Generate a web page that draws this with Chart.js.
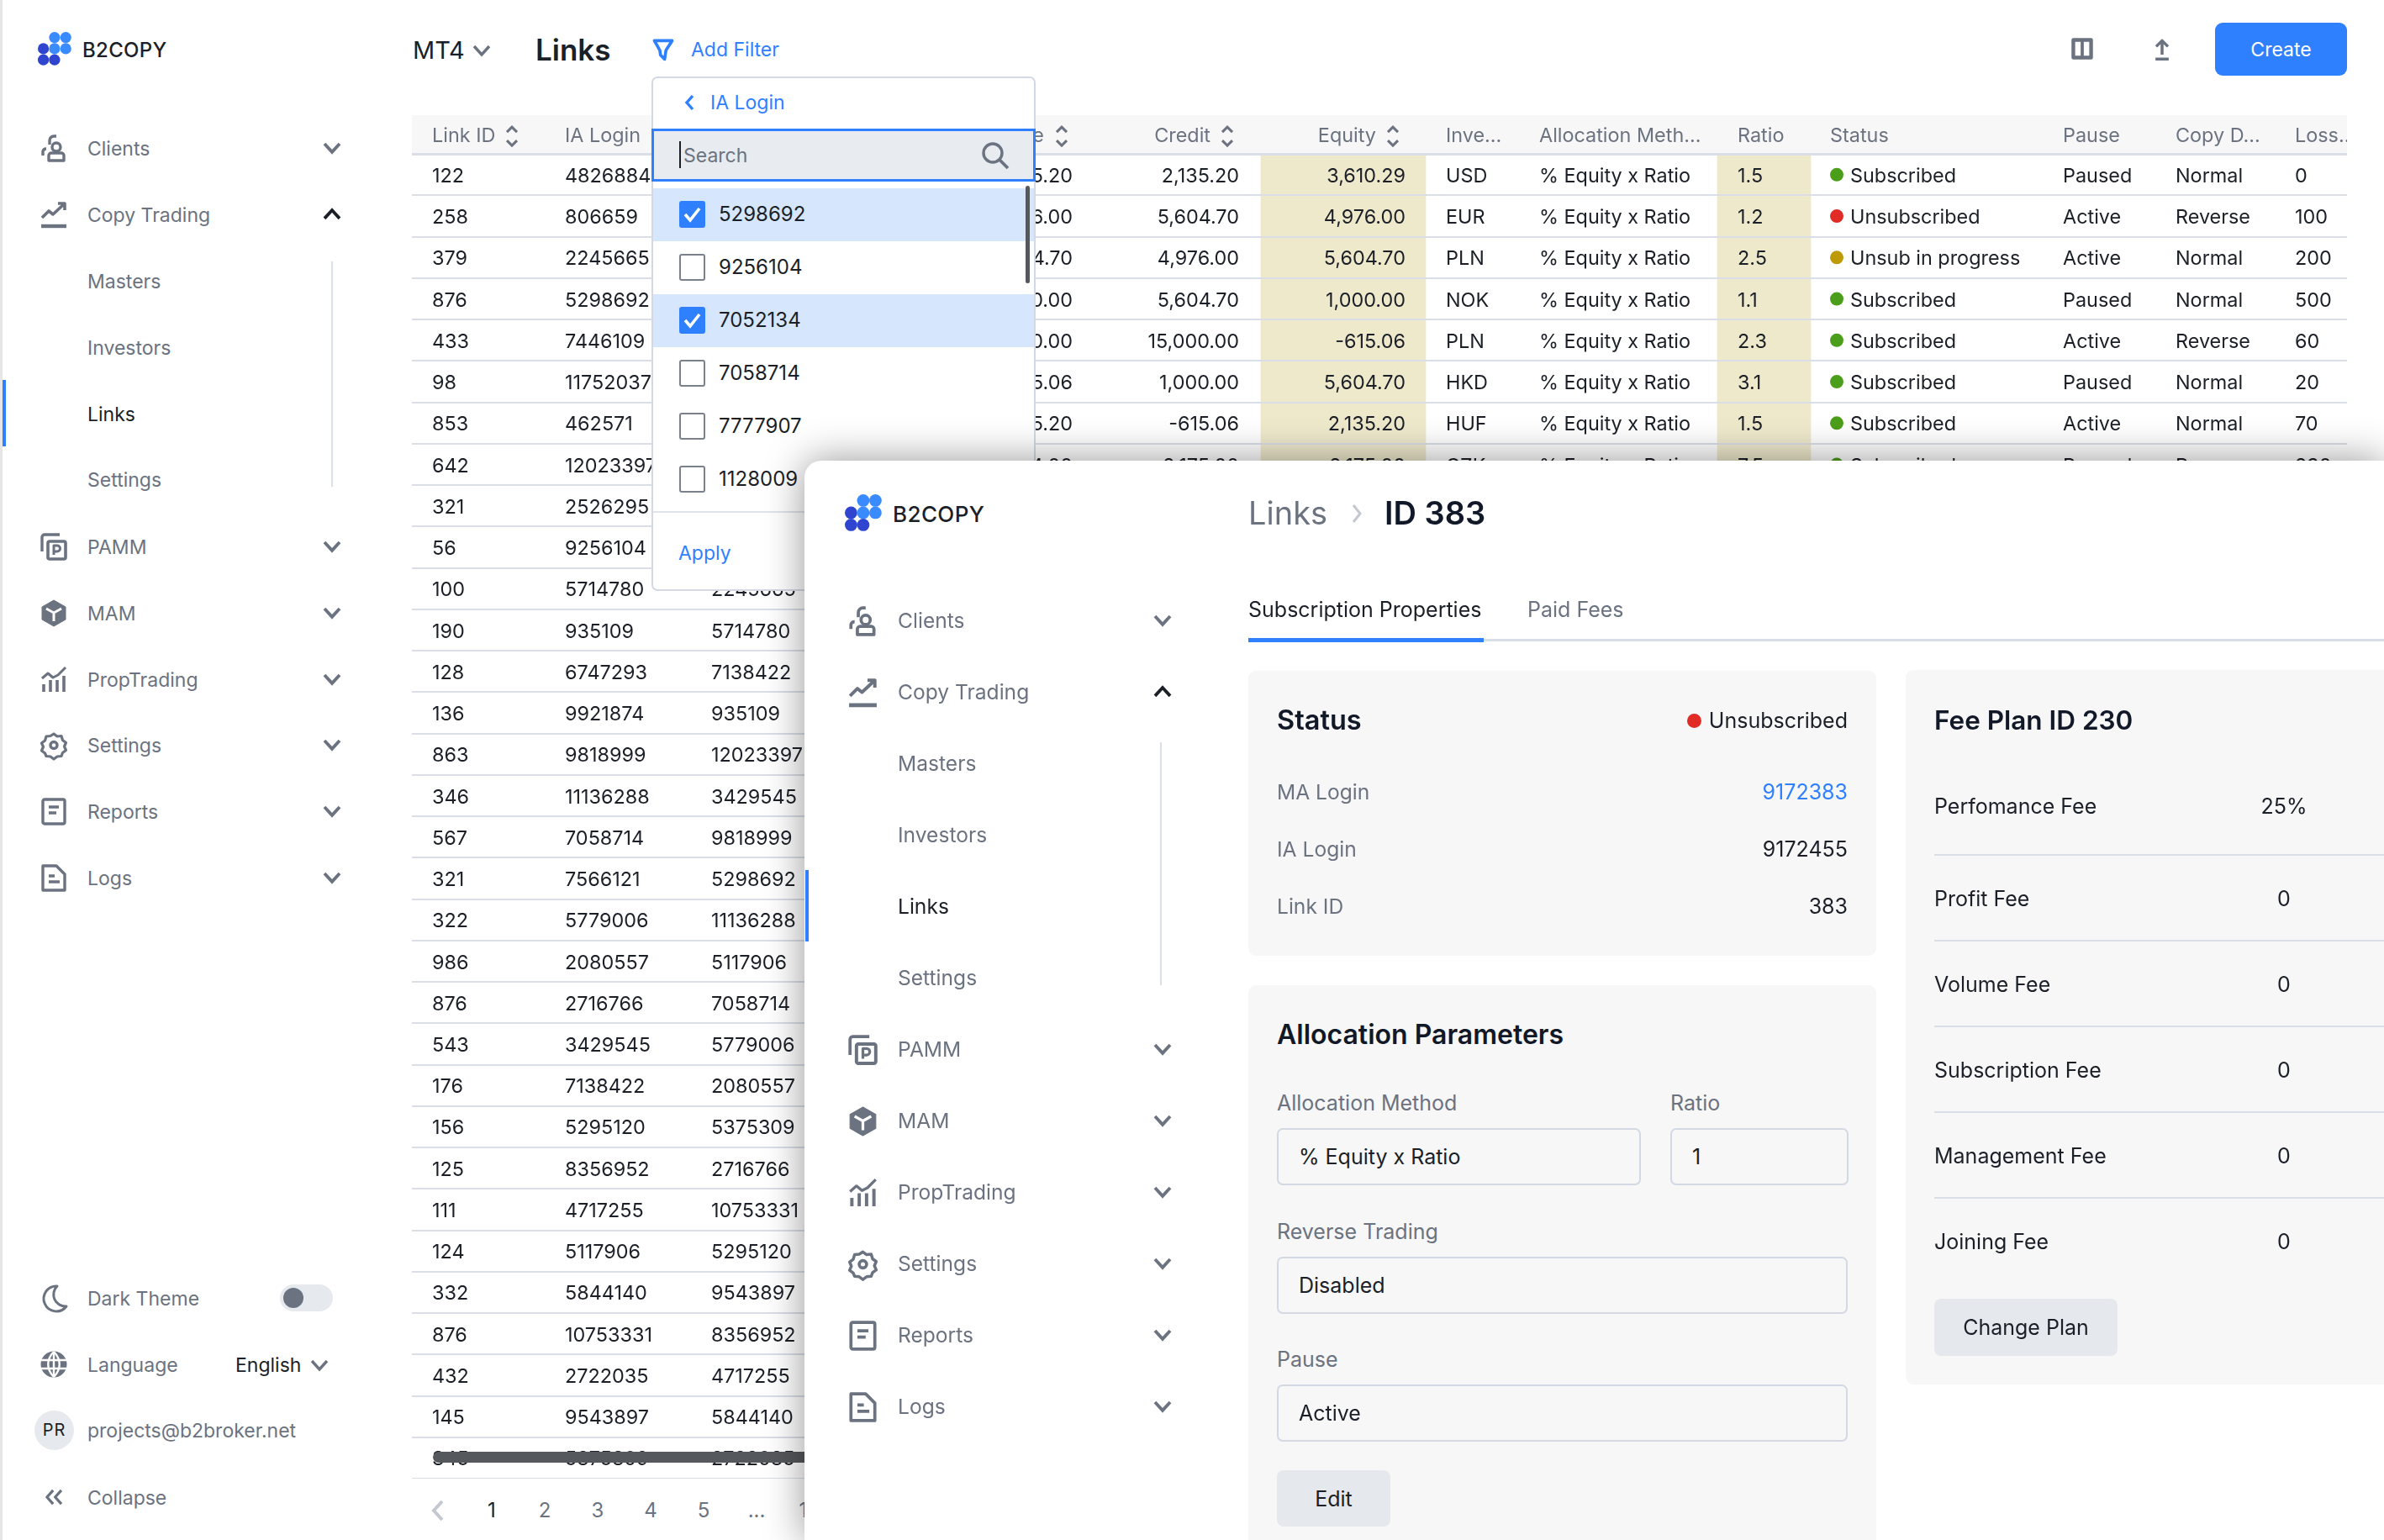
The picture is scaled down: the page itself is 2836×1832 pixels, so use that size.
<!DOCTYPE html>
<html>
<head>
<meta charset="utf-8">
<title>Links</title>
<script src="https://cdn.jsdelivr.net/npm/chart.js@4/dist/chart.umd.js"></script>
<style>
  html, body { margin: 0; padding: 0; background: #fff; }
  body { width: 2836px; height: 1832px; overflow: hidden; position: relative; font-family: Inter, sans-serif; }
  .layer { position: absolute; left: 0; top: 0; width: 2836px; height: 1832px; }
  .t { position: absolute; white-space: nowrap; line-height: 1; }
  .box { position: absolute; box-sizing: border-box; }
  svg { position: absolute; overflow: visible; }
  #tableChart { position: absolute; left: 490px; top: 134px; }
</style>
</head>
<body>
<div class="layer" id="main"><canvas id="tableChart" width="2302" height="1625"></canvas></div>
<div class="layer" id="filter"></div>
<div class="layer" id="panel"></div>
<script>
// Table columns
const linkIds = ['122', '258', '379', '876', '433', '98', '853', '642', '321', '56', '100', '190', '128', '136', '863', '346', '567', '321', '322', '986', '876', '543', '176', '156', '125', '111', '124', '332', '876', '432', '145', '345'];
const iaLogins = ['4826884', '806659', '2245665', '5298692', '7446109', '11752037', '462571', '12023397', '2526295', '9256104', '5714780', '935109', '6747293', '9921874', '9818999', '11136288', '7058714', '7566121', '5779006', '2080557', '2716766', '3429545', '7138422', '5295120', '8356952', '4717255', '5117906', '5844140', '10753331', '2722035', '9543897', '5375309'];
const maLogins = [null, null, null, null, null, null, null, null, null, null, '2245665', '5714780', '7138422', '935109', '12023397', '3429545', '9818999', '5298692', '11136288', '5117906', '7058714', '5779006', '2080557', '5375309', '2716766', '10753331', '5295120', '9543897', '8356952', '4717255', '5844140', '2722035'];
const balances = ['2,135.20', '4,976.00', '5,604.70', '1,000.00', '1,000.00', '-615.06', '2,135.20', '2,104.00'];
const credits = ['2,135.20', '5,604.70', '4,976.00', '5,604.70', '15,000.00', '1,000.00', '-615.06', '2,175.00'];
const equities = ['3,610.29', '4,976.00', '5,604.70', '1,000.00', '-615.06', '5,604.70', '2,135.20', '2,175.00'];
const currencies = ['USD', 'EUR', 'PLN', 'NOK', 'PLN', 'HKD', 'HUF', 'CZK'];
const allocationMethods = ['% Equity x Ratio', '% Equity x Ratio', '% Equity x Ratio', '% Equity x Ratio', '% Equity x Ratio', '% Equity x Ratio', '% Equity x Ratio', '% Equity x Ratio'];
const ratios = ['1.5', '1.2', '2.5', '1.1', '2.3', '3.1', '1.5', '7.5'];
const statuses = ['Subscribed', 'Unsubscribed', 'Unsub in progress', 'Subscribed', 'Subscribed', 'Subscribed', 'Subscribed', 'Subscribed'];
const pauses = ['Paused', 'Active', 'Active', 'Paused', 'Active', 'Paused', 'Active', 'Paused'];
const copyDirections = ['Normal', 'Reverse', 'Normal', 'Normal', 'Reverse', 'Normal', 'Normal', 'Reverse'];
const lossLimits = ['0', '100', '200', '500', '60', '20', '70', '230'];

// Other lists
const filterLogins = ['5298692', '9256104', '7052134', '7058714', '7777907', '1128009'];
const filterChecked = [true, false, true, false, false, false];
const feeNames = ['Perfomance Fee', 'Profit Fee', 'Volume Fee', 'Subscription Fee', 'Management Fee', 'Joining Fee'];
const feeValues = ['25%', '0', '0', '0', '0', '0'];
const pageLabels = ['1', '2', '3', '4', '5', '...', '10'];

// Column layout, in pixels from the left of the table
const tableWidth = 2302;
const columns = [
  { header: 'Link ID', values: linkIds, x: 24, sortX: 119 },
  { header: 'IA Login', values: iaLogins, x: 182 },
  { header: 'MA Login', values: maLogins, x: 356 },
  { header: 'Balance', values: balances, x: 786, headerX: 752, align: 'right', sortX: 773 },
  { header: 'Credit', values: credits, x: 984, headerX: 950, align: 'right', sortX: 970 },
  { header: 'Equity', values: equities, x: 1182, headerX: 1147, align: 'right', sortX: 1167 },
  { header: 'Inve...', values: currencies, x: 1230 },
  { header: 'Allocation Meth...', values: allocationMethods, x: 1341 },
  { header: 'Ratio', values: ratios, x: 1577 },
  { header: 'Status', values: statuses, x: 1711, headerX: 1687 },
  { header: 'Pause', values: pauses, x: 1964 },
  { header: 'Copy D...', values: copyDirections, x: 2098 },
  { header: 'Loss...', values: lossLimits, x: 2240 }
];
const rowKeys = ['header'].concat(linkIds.map((id, i) => 'row' + i));
const statusColors = { 'Subscribed': '#4b9e1a', 'Unsubscribed': '#e02b27', 'Unsub in progress': '#bd9a06' };
const statusDotX = 1695;

const tableTextPlugin = {
  id: 'tableText',
  afterDatasetsDraw(chart) {
    const { ctx, scales } = chart;
    ctx.save();
    ctx.textBaseline = 'middle';
    columns.forEach(col => {
      ctx.textAlign = col.align || 'left';
      ctx.font = '400 23.4px Inter';
      ctx.fillStyle = '#6b7280';
      const hx = scales.x.getPixelForValue(col.headerX !== undefined ? col.headerX : col.x);
      const hy = scales.y.getPixelForValue('header') + 3.5;
      ctx.fillText(col.header, hx, hy);
      if (col.sortX) {
        const sx = scales.x.getPixelForValue(col.sortX);
        ctx.strokeStyle = '#6b7280';
        ctx.lineWidth = 3;
        ctx.beginPath();
        ctx.moveTo(sx - 6, hy - 5); ctx.lineTo(sx, hy - 11); ctx.lineTo(sx + 6, hy - 5);
        ctx.moveTo(sx - 6, hy + 5); ctx.lineTo(sx, hy + 11); ctx.lineTo(sx + 6, hy + 5);
        ctx.stroke();
      }
      ctx.fillStyle = '#1b1f27';
      col.values.forEach((v, i) => {
        if (v === null) return;
        ctx.fillText(v, scales.x.getPixelForValue(col.x), scales.y.getPixelForValue('row' + i) + 2);
      });
    });
    ctx.restore();
  }
};

function highlightBars(values, from, to) {
  return values.map((v, i) => ({ x: [from, to], y: 'row' + i }));
}

new Chart(document.getElementById('tableChart'), {
  data: {
    labels: rowKeys,
    datasets: [
      {
        type: 'bar',
        indexAxis: 'y',
        data: highlightBars(equities, 1010, 1206),
        backgroundColor: '#efe9cc',
        barPercentage: 1,
        categoryPercentage: 1,
        grouped: false
      },
      {
        type: 'bar',
        indexAxis: 'y',
        data: highlightBars(ratios, 1553, 1664),
        backgroundColor: '#efe9cc',
        barPercentage: 1,
        categoryPercentage: 1,
        grouped: false
      },
      {
        type: 'scatter',
        data: statuses.map((s, i) => ({ x: statusDotX, y: 'row' + i })),
        pointRadius: 8,
        pointBorderWidth: 0,
        pointBackgroundColor: statuses.map(s => statusColors[s])
      }
    ]
  },
  options: {
    responsive: false,
    animation: false,
    devicePixelRatio: 1,
    layout: { padding: 0, autoPadding: false },
    plugins: { legend: { display: false }, tooltip: { enabled: false } },
    scales: {
      x: { type: 'linear', min: 0, max: tableWidth, display: false },
      y: {
        type: 'category',
        offset: true,
        border: { display: false },
        ticks: { display: false, autoSkip: false },
        grid: {
          offset: true,
          z: 1,
          drawTicks: false,
          color: c => c.index === 0 ? 'rgba(0,0,0,0)' : '#d9dee7',
          lineWidth: c => c.index === 1 ? 3 : 2
        }
      }
    }
  },
  plugins: [tableTextPlugin]
});

// Page furniture below
const GRAY = '#6b7280', DARK = '#1b1f27', BLUE = '#2f80ff', LINE = '#d9dee7', CARD = '#f7f7f8';
const SVG_NS = 'http://www.w3.org/2000/svg';

function txt(parent, str, x, y, size, color, opts) {
  opts = opts || {};
  const d = document.createElement('div');
  d.className = 't';
  d.textContent = str;
  d.style.left = x + 'px';
  d.style.top = y + 'px';
  d.style.fontSize = size + 'px';
  d.style.color = color;
  d.style.fontWeight = opts.weight || 400;
  if (opts.spacing) d.style.letterSpacing = opts.spacing + 'px';
  const tx = opts.align === 'right' ? '-100%' : opts.align === 'center' ? '-50%' : '0';
  d.style.transform = 'translate(' + tx + ',-50%)';
  parent.appendChild(d);
  return d;
}

function box(parent, x, y, w, h, css) {
  const d = document.createElement('div');
  d.className = 'box';
  d.style.cssText = 'left:' + x + 'px;top:' + y + 'px;width:' + w + 'px;height:' + h + 'px;' + (css || '');
  parent.appendChild(d);
  return d;
}

function shape(parent, x, y, w, h, inner) {
  const s = document.createElementNS(SVG_NS, 'svg');
  s.setAttribute('width', w);
  s.setAttribute('height', h);
  s.style.left = x + 'px';
  s.style.top = y + 'px';
  s.innerHTML = inner;
  parent.appendChild(s);
  return s;
}

const ICONS = {
  clients: '<circle cx="19" cy="15" r="5" fill="none" stroke-width="3.4"/><path d="M10 31v-6a3 3 0 0 1 3-3h12a3 3 0 0 1 3 3v6z" fill="none" stroke-width="3.4"/><path d="M11 12V7a5 5 0 0 1 5-5h3M3 25v-5a4 4 0 0 1 4-3" fill="none" stroke-width="3.4"/>',
  chart: '<path d="M2 20l8-8 5 4L29 3M21 3h8v8" fill="none" stroke-width="3.6"/><path d="M1 30h30" fill="none" stroke-width="4.4"/>',
  pamm: '<path d="M2 22V5a3 3 0 0 1 3-3h18" fill="none" stroke-width="3.4"/><rect x="9" y="10" width="21" height="21" rx="2" fill="none" stroke-width="3.6"/><path d="M16 26V15h4a3 3 0 0 1 0 7h-4" fill="none" stroke-width="3"/>',
  mam: '<path d="M16 1l14 8v15l-14 8-14-8V9z" stroke-width="1"/><path d="M7 11l9 5 9-5M16 16v10" fill="none" stroke="#fff" stroke-width="3"/>',
  prop: '<path d="M2 15l7-6 6 5 6-3 9-9" fill="none" stroke-width="3"/><path d="M4 31v-9M12 31V17M20 31V17M28 31V12" fill="none" stroke-width="3.6"/>',
  gear: '<path d="M16 3l4 3 5-.5 1.5 5 4 3-2 4.5 2 4.5-4 3-1.5 4-5 .5-4 3-4-3-5-.5L5.500 26l-4-3 2-4.500-2-4.500 4-3L7 6l5-.5z" fill="none" stroke-width="3.2"/><circle cx="16" cy="16.500" r="4" fill="none" stroke-width="3.4"/>',
  reports: '<rect x="3" y="2" width="26" height="29" rx="2" fill="none" stroke-width="3.4"/><path d="M10 11h12M10 18h9" fill="none" stroke-width="3.4"/>',
  logs: '<path d="M3 31V2h16l10 10v19z" fill="none" stroke-width="3.4"/><path d="M10 14h7M10 21h13" fill="none" stroke-width="3.4"/>',
  moon: '<path d="M20 2a15 15 0 1 0 11 24A14 14 0 0 1 20 2z" fill="none" stroke-width="3"/>',
  globe: '<circle cx="16" cy="16" r="15.500" stroke-width="0"/><path d="M1 11h30M1 21h30M16 1v30M16 1c-9 9-9 21 0 30M16 1c9 9 9 21 0 30" fill="none" stroke="#fff" stroke-width="2.4"/>',
  collapse: '<path d="M15 6l-9 10 9 10M27 6l-9 10 9 10" fill="none" stroke-width="4"/>',
  columns: '<rect x="3" y="3" width="26" height="26" fill="none" stroke-width="5.4"/><path d="M16 3v26" stroke-width="4.6"/>',
  upload: '<path d="M16 24V5M8 13l8-8 8 8" fill="none" stroke-width="4"/><path d="M7 30h18" fill="none" stroke-width="4"/>',
  funnel: '<path d="M3 3h26l-9 14-2 13-6-6-1-7z" fill="none" stroke-width="4.500"/>'
};

function icon(parent, name, cx, cy, size, color) {
  const c = color || GRAY;
  const s = shape(parent, cx - size / 2, cy - size / 2, size, size, ICONS[name]);
  s.setAttribute('viewBox', '0 0 32 32');
  s.setAttribute('fill', c);
  s.setAttribute('stroke', c);
  s.setAttribute('stroke-linejoin', 'round');
  return s;
}

function chevron(parent, cx, cy, w, dir, color, stroke) {
  const h = w * 0.55;
  const p = dir === 'up' ? 'M0 ' + h + ' L' + w / 2 + ' 0 L' + w + ' ' + h : 'M0 0 L' + w / 2 + ' ' + h + ' L' + w + ' 0';
  shape(parent, cx - w / 2, cy - h / 2, w, h, '<path d="' + p + '" fill="none" stroke="' + (color || GRAY) + '" stroke-width="' + (stroke || 3.6) + '"/>');
}

function logo(parent, x, y, r, step) {
  const dots = [[1, 0, '#3a8bff'], [2, 0, '#3a8bff'], [0, 1, '#2f45d0'], [1, 1, '#3a8bff'], [2, 1, '#3a8bff'], [0, 2, '#2f45d0'], [1, 2, '#2f45d0']];
  shape(parent, x, y, step * 2 + r * 2, step * 2 + r * 2,
    dots.map(d => '<circle cx="' + (r + d[0] * step) + '" cy="' + (r + d[1] * step) + '" r="' + r + '" fill="' + d[2] + '"/>').join(''));
}

function sideMenu(parent, rows, textX, iconX, chevX, size, iconSize, textShift) {
  rows.forEach(r => {
    txt(parent, r.label, textX, r.y + textShift, size, r.active ? DARK : GRAY);
    if (r.icon) {
      icon(parent, r.icon, iconX, r.y, iconSize);
      chevron(parent, chevX, r.y, 18, r.open ? 'up' : 'down', r.open ? DARK : GRAY, 3.8);
    }
  });
}

// Main sidebar
const main = document.getElementById('main');
box(main, 0, 0, 3, 1832, 'background:#e6e6e6');
box(main, 3, 452, 4, 79, 'background:' + BLUE);
logo(main, 45, 38, 6.6, 13.300);
txt(main, 'B2COPY', 98, 60, 24, DARK, { weight: 500, spacing: 0.3 });
sideMenu(main, [
  { label: 'Clients', y: 176, icon: 'clients' },
  { label: 'Copy Trading', y: 255, icon: 'chart', open: true },
  { label: 'Masters', y: 334 },
  { label: 'Investors', y: 413 },
  { label: 'Links', y: 492, active: true },
  { label: 'Settings', y: 570 },
  { label: 'PAMM', y: 650, icon: 'pamm' },
  { label: 'MAM', y: 729, icon: 'mam' },
  { label: 'PropTrading', y: 808, icon: 'prop' },
  { label: 'Settings', y: 886, icon: 'gear' },
  { label: 'Reports', y: 965, icon: 'reports' },
  { label: 'Logs', y: 1044, icon: 'logs' }
], 104, 64, 395, 23, 32, 0.5);
box(main, 394, 311, 2, 268, 'background:' + LINE);

txt(main, 'Dark Theme', 104, 1544.5, 23, GRAY);
icon(main, 'moon', 64, 1544, 32);
box(main, 333, 1528, 63, 32, 'background:#e6e9ee;border-radius:16px');
box(main, 337, 1532, 24, 24, 'background:' + GRAY + ';border-radius:50%');
txt(main, 'Language', 104, 1623.5, 23, GRAY);
icon(main, 'globe', 64, 1623, 32);
txt(main, 'English', 280, 1623.5, 23, DARK);
chevron(main, 380, 1624, 18, 'down', GRAY, 3.4);
box(main, 41, 1678, 47, 47, 'background:#e6e9ee;border-radius:50%');
txt(main, 'PR', 64.5, 1701, 20, DARK, { align: 'center', spacing: 1 });
txt(main, 'projects@b2broker.net', 104, 1702, 23, GRAY);
txt(main, 'Collapse', 104, 1781.5, 23, GRAY);
icon(main, 'collapse', 64, 1781, 26);

// Top bar
txt(main, 'MT4', 491, 59, 29, DARK);
chevron(main, 573, 60, 18, 'down', GRAY, 3.4);
txt(main, 'Links', 637, 59, 35, DARK, { weight: 600 });
icon(main, 'funnel', 789, 59, 26, BLUE);
txt(main, 'Add Filter', 822, 58.5, 23, BLUE);
icon(main, 'columns', 2477, 58, 26);
icon(main, 'upload', 2572, 58, 28);
box(main, 2635, 27, 157, 63, 'background:' + BLUE + ';border-radius:9px');
txt(main, 'Create', 2713.500, 59, 23, '#fff', { align: 'center' });

// Header band sits behind the transparent canvas
const band = box(main, 490, 137, 2302, 46, 'background:' + CARD);
main.insertBefore(band, main.firstChild);

// Horizontal scrollbar and pager
box(main, 515, 1727, 442, 13, 'background:#55585c;border-radius:7px 0 0 7px');
pageLabels.forEach((p, i) => {
  txt(main, p, 585 + i * 63, 1797, 24, i === 0 ? DARK : GRAY, { align: 'center' });
});
shape(main, 513, 1784, 15, 26, '<path d="M13 2L3 13l10 11" fill="none" stroke="#c3c8d1" stroke-width="4"/>');

// Filter dropdown
const filter = document.getElementById('filter');
box(filter, 775, 91, 457, 612, 'background:#fff;border:2px solid #d3d9e4;border-radius:7px');
shape(filter, 814, 112, 12, 20, '<path d="M10 2L3 10l7 8" fill="none" stroke="' + BLUE + '" stroke-width="3.4"/>');
txt(filter, 'IA Login', 845, 121.5, 23, BLUE);
box(filter, 775, 153, 457, 63, 'background:#e8ebef;border:3px solid ' + BLUE);
box(filter, 808, 168, 2, 32, 'background:' + DARK);
txt(filter, 'Search', 813, 184.5, 23, GRAY);
shape(filter, 1167, 168, 34, 34, '<circle cx="14" cy="14" r="11" fill="none" stroke="' + GRAY + '" stroke-width="3.4"/><path d="M22 22l10 10" stroke="' + GRAY + '" stroke-width="3.8"/>');
filterLogins.forEach((login, i) => {
  const y = 255 + i * 63;
  if (filterChecked[i]) {
    box(filter, 777, y - 31.500, 453, 63, 'background:#d6e6fd');
    box(filter, 808, y - 16, 31, 32, 'background:' + BLUE + ';border-radius:3px');
    shape(filter, 808, y - 16, 31, 32, '<path d="M7 16l6 7 11-14" fill="none" stroke="#fff" stroke-width="3.6"/>');
  } else {
    box(filter, 808, y - 16, 31, 32, 'background:#fff;border:2px solid #7b818b;border-radius:3px');
  }
  txt(filter, login, 855, y, 24, DARK);
});
box(filter, 1220, 221, 5, 116, 'background:#55585c;border-radius:3px');
box(filter, 777, 608, 453, 2, 'background:#dfe3ea');
txt(filter, 'Apply', 807, 658, 23, BLUE);

// Detail panel
const panel = document.getElementById('panel');
box(panel, 957, 548, 1879, 1284, 'background:#fff;border-radius:20px 0 0 0;box-shadow:0 0 48px rgba(0,0,0,.42)');
box(panel, 958, 1035, 4, 85, 'background:' + BLUE);
logo(panel, 1005, 588, 7.4, 14.5);
txt(panel, 'B2COPY', 1062, 612, 26, DARK, { weight: 500, spacing: 0.4 });
txt(panel, 'Links', 1485, 610, 38, GRAY);
shape(panel, 1608, 599, 12, 24, '<path d="M2 2l8 10-8 10" fill="none" stroke="#c3c8d1" stroke-width="3"/>');
txt(panel, 'ID 383', 1647, 610, 38, '#111827', { weight: 600 });
sideMenu(panel, [
  { label: 'Clients', y: 738, icon: 'clients' },
  { label: 'Copy Trading', y: 823, icon: 'chart', open: true },
  { label: 'Masters', y: 908 },
  { label: 'Investors', y: 993 },
  { label: 'Links', y: 1078, active: true },
  { label: 'Settings', y: 1163 },
  { label: 'PAMM', y: 1248, icon: 'pamm' },
  { label: 'MAM', y: 1333, icon: 'mam' },
  { label: 'PropTrading', y: 1418, icon: 'prop' },
  { label: 'Settings', y: 1503, icon: 'gear' },
  { label: 'Reports', y: 1588, icon: 'reports' },
  { label: 'Logs', y: 1673, icon: 'logs' }
], 1068, 1026, 1383, 24.6, 35, 0);
box(panel, 1380, 883, 2, 289, 'background:' + LINE);

// Tabs
txt(panel, 'Subscription Properties', 1485, 725, 25, DARK);
txt(panel, 'Paid Fees', 1817, 725, 25, GRAY);
box(panel, 1485, 760, 1351, 3, 'background:' + LINE);
box(panel, 1485, 759, 280, 5, 'background:' + BLUE);

// Status card
box(panel, 1485, 798, 747, 339, 'background:' + CARD + ';border-radius:9px');
txt(panel, 'Status', 1519, 857, 32.5, '#111827', { weight: 600 });
box(panel, 2007, 849, 17, 17, 'background:#e02b27;border-radius:50%');
txt(panel, 'Unsubscribed', 2198, 857, 25, DARK, { align: 'right' });
[['MA Login', '9172383', 942, BLUE], ['IA Login', '9172455', 1010, DARK], ['Link ID', '383', 1078, DARK]].forEach(r => {
  txt(panel, r[0], 1519, r[2], 24.6, GRAY);
  txt(panel, r[1], 2198, r[2], 25, r[3], { align: 'right' });
});

// Allocation card
box(panel, 1485, 1172, 747, 660, 'background:' + CARD + ';border-radius:9px 9px 0 0');
txt(panel, 'Allocation Parameters', 1519, 1231, 32, '#111827', { weight: 600 });
function field(label, value, x, w, labelY, top) {
  txt(panel, label, x, labelY, 25, GRAY);
  box(panel, x, top, w, 68, 'border:2px solid #d3d9e4;border-radius:7px;background:' + CARD);
  txt(panel, value, x + 26, top + 34, 25, DARK);
}
field('Allocation Method', '% Equity x Ratio', 1519, 433, 1312, 1342);
field('Ratio', '1', 1987, 212, 1312, 1342);
field('Reverse Trading', 'Disabled', 1519, 679, 1465, 1495);
field('Pause', 'Active', 1519, 679, 1617, 1647);
box(panel, 1519, 1749, 135, 67, 'background:#e5e8ed;border-radius:8px');
txt(panel, 'Edit', 1586.500, 1783, 25, DARK, { align: 'center' });

// Fee plan card
box(panel, 2267, 797, 569, 850, 'background:' + CARD + ';border-radius:9px 0 0 9px');
txt(panel, 'Fee Plan ID 230', 2301, 857, 31.5, '#111827', { weight: 600 });
feeNames.forEach((name, i) => {
  const y = i === 0 ? 958.5 : 1069 + (i - 1) * 102;
  txt(panel, name, 2301, y, 25, DARK);
  txt(panel, feeValues[i], 2717, y, 25, DARK, { align: 'center' });
  if (i < feeNames.length - 1) box(panel, 2301, 1016 + i * 102, 535, 2, 'background:' + LINE);
});
box(panel, 2301, 1545, 218, 68, 'background:#e5e8ed;border-radius:8px');
txt(panel, 'Change Plan', 2410, 1579, 25, DARK, { align: 'center' });
</script>
</body>
</html>
